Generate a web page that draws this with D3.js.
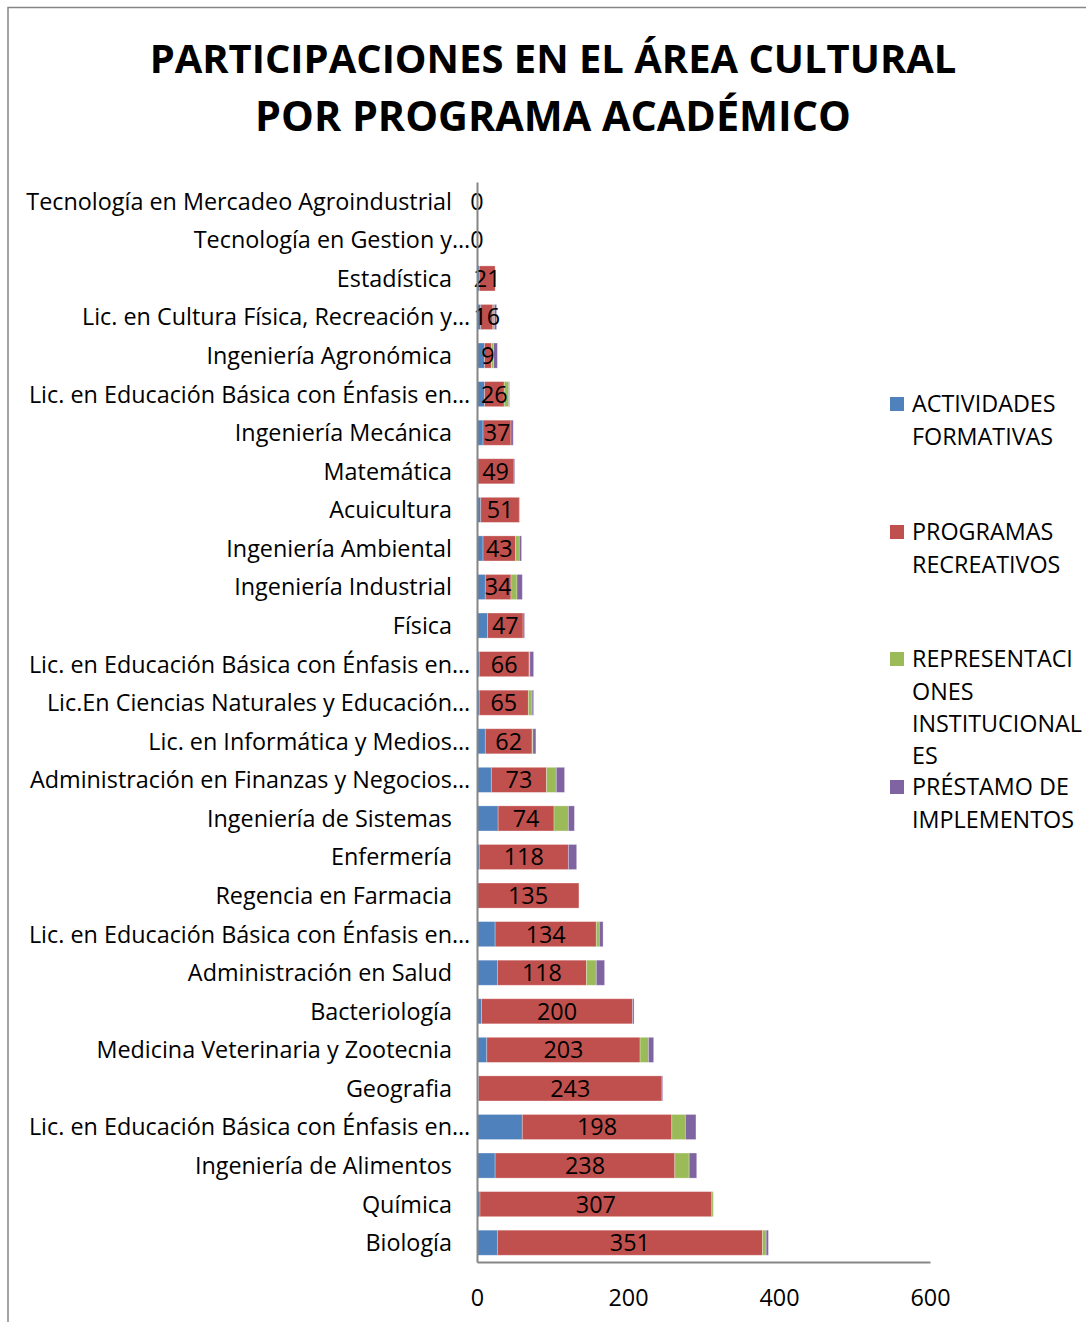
<!DOCTYPE html>
<html>
<head>
<meta charset="utf-8">
<script src="https://cdn.jsdelivr.net/npm/d3@7"></script>
<style>
  body { margin: 0; background: #fff; }
</style>
</head>
<body>
<div id="chart"></div>
<script>
// categories, top to bottom as shown
var categories = [
    "Tecnología en Mercadeo Agroindustrial",
    "Tecnología en Gestion y…",
    "Estadística",
    "Lic. en Cultura Física, Recreación y…",
    "Ingeniería Agronómica",
    "Lic. en Educación Básica con Énfasis en…",
    "Ingeniería Mecánica",
    "Matemática",
    "Acuicultura",
    "Ingeniería Ambiental",
    "Ingeniería Industrial",
    "Física",
    "Lic. en Educación Básica con Énfasis en…",
    "Lic.En Ciencias Naturales y Educación…",
    "Lic. en Informática y Medios…",
    "Administración en Finanzas y Negocios…",
    "Ingeniería de Sistemas",
    "Enfermería",
    "Regencia en Farmacia",
    "Lic. en Educación Básica con Énfasis en…",
    "Administración en Salud",
    "Bacteriología",
    "Medicina Veterinaria y Zootecnia",
    "Geografia",
    "Lic. en Educación Básica con Énfasis en…",
    "Ingeniería de Alimentos",
    "Química",
    "Biología"
];

var actividades      = [0, 0, 3, 5, 10, 10, 8, 0, 5, 8, 11, 14, 3, 3, 11, 19, 28, 3, 0, 24, 27, 6, 13, 2, 60, 24, 4, 27];
var programas        = [0, 0, 21, 16, 9, 26, 37, 49, 51, 43, 34, 47, 66, 65, 62, 73, 74, 118, 135, 134, 118, 200, 203, 243, 198, 238, 307, 351];
var representaciones = [0, 0, 0, 2, 3, 6, 0, 0, 1, 5, 8, 0, 1, 5, 1, 13, 19, 0, 0, 4, 13, 0, 11, 0, 18, 19, 2, 5];
var prestamo         = [0, 0, 0, 3, 5, 1, 3, 1, 0, 3, 7, 2, 5, 2, 4, 11, 8, 11, 0, 5, 11, 2, 7, 1, 14, 10, 0, 3];

var seriesNames = [
    ["ACTIVIDADES", "FORMATIVAS"],
    ["PROGRAMAS", "RECREATIVOS"],
    ["REPRESENTACI", "ONES", "INSTITUCIONAL", "ES"],
    ["PRÉSTAMO DE", "IMPLEMENTOS"]
];
var seriesColors = ["#4F81BD", "#C0504D", "#9BBB59", "#8064A2"];
var xTicks = [0, 200, 400, 600];

var titleLines = ["PARTICIPACIONES EN EL ÁREA CULTURAL", "POR PROGRAMA ACADÉMICO"];

var width = 1086;
var height = 1322;
var FONT = "'Open Sans', 'Noto Sans', sans-serif";

var margin = { top: 182, bottom: 60, left: 477, right: 156 };
var innerW = 930 - margin.left;
var innerH = 1262 - margin.top;

var svg = d3.select("#chart")
    .append("svg")
    .attr("width", width)
    .attr("height", height)
    .style("font-family", FONT);

// size fonts so text widths match the reference
function fitSize(text, weight, target) {
    var t = svg.append("text")
        .attr("font-size", 100)
        .attr("font-weight", weight)
        .text(text);
    var w = t.node().getComputedTextLength();
    t.remove();
    return 100 * target / w;
}
var labelSize = fitSize("Tecnología en Mercadeo Agroindustrial", "normal", 426);
var legendSize = fitSize("IMPLEMENTOS", "normal", 162);
var titleWidths = [807, 596];

// outer frame
svg.append("path")
    .attr("d", "M8,1322 L8,7.5 L1086,7.5")
    .attr("fill", "none")
    .attr("stroke", "#868686")
    .attr("stroke-width", 1.5);

// title
svg.append("g")
    .selectAll("text")
    .data(titleLines)
    .enter()
    .append("text")
    .attr("x", 553)
    .attr("y", function(d, i) { return 73 + i * 58; })
    .attr("text-anchor", "middle")
    .attr("font-weight", "bold")
    .attr("font-size", function(d, i) { return fitSize(d, "bold", titleWidths[i]); })
    .attr("fill", "#000")
    .text(function(d) { return d; });

var g = svg.append("g")
    .attr("transform", "translate(" + margin.left + "," + margin.top + ")");

var x_scale = d3.scaleLinear().domain([0, 600]).range([0, innerW]);
var y_scale = d3.scaleBand()
    .domain(d3.range(categories.length))
    .range([0, innerH])
    .paddingInner(0.35)
    .paddingOuter(0.175);

// build stack table
var table = categories.map(function(c, i) {
    return { idx: i, a: actividades[i], p: programas[i], r: representaciones[i], s: prestamo[i] };
});
var stack = d3.stack().keys(["a", "p", "r", "s"]);
var layers = stack(table);

g.selectAll(".layer")
    .data(layers)
    .enter()
    .append("g")
    .attr("class", "layer")
    .attr("fill", function(d, i) { return seriesColors[i]; })
    .selectAll("rect")
    .data(function(d) { return d; })
    .enter()
    .append("rect")
    .attr("x", function(d) { return x_scale(d[0]); })
    .attr("y", function(d) { return y_scale(d.data.idx); })
    .attr("width", function(d) { return x_scale(d[1]) - x_scale(d[0]); })
    .attr("height", y_scale.bandwidth())
    .attr("stroke", "#fff")
    .attr("stroke-opacity", 0.35)
    .attr("stroke-width", function(d) { return d[1] > d[0] ? 0.8 : 0; });

// data labels for programas recreativos
g.selectAll(".dlabel")
    .data(layers[1])
    .enter()
    .append("text")
    .attr("class", "dlabel")
    .attr("x", function(d) { return (x_scale(d[0]) + x_scale(d[1])) / 2; })
    .attr("y", function(d) { return y_scale(d.data.idx) + y_scale.bandwidth() / 2; })
    .attr("dy", "0.36em")
    .attr("text-anchor", "middle")
    .attr("font-size", labelSize)
    .attr("fill", "#000")
    .text(function(d) { return d.data.p; });

// axes
var yAxis = g.append("g")
    .attr("class", "axis axis--y")
    .call(d3.axisLeft(y_scale).tickSize(0).tickFormat(""));
yAxis.select(".domain").attr("stroke", "#868686").attr("stroke-width", 2);

var xAxis = g.append("g")
    .attr("class", "axis axis--x")
    .attr("transform", "translate(0," + innerH + ")")
    .call(d3.axisBottom(x_scale).tickValues(xTicks).tickSize(0).tickPadding(27));
xAxis.select(".domain").attr("stroke", "#868686").attr("stroke-width", 2);
xAxis.selectAll("text")
    .attr("font-family", FONT)
    .attr("font-size", labelSize)
    .attr("fill", "#000");

// category labels; truncated ones let the ellipsis hang past the edge
var cat = g.append("g")
    .selectAll("text")
    .data(categories)
    .enter()
    .append("text")
    .attr("y", function(d, i) { return y_scale(i) + y_scale.bandwidth() / 2; })
    .attr("dy", "0.36em")
    .attr("font-size", labelSize)
    .attr("fill", "#000");

cat.each(function(d) {
    var el = d3.select(this);
    var cut = d.slice(-1) === "…";
    var main = cut ? d.slice(0, -1) : d;
    el.append("tspan")
        .attr("x", -25)
        .attr("text-anchor", "end")
        .text(main);
    if (cut) {
        el.append("tspan")
            .attr("x", -25)
            .attr("text-anchor", "start")
            .text("…");
    }
});

// legend
var legendTop = [404, 532, 659, 787];
var legend = svg.append("g")
    .selectAll(".legend")
    .data(seriesNames)
    .enter()
    .append("g")
    .attr("class", "legend")
    .attr("transform", function(d, i) { return "translate(890," + legendTop[i] + ")"; });

legend.append("rect")
    .attr("x", 0)
    .attr("y", -7)
    .attr("width", 14)
    .attr("height", 14)
    .attr("fill", function(d, i) { return seriesColors[i]; });

legend.each(function(lines) {
    var t = d3.select(this)
        .append("text")
        .attr("font-size", legendSize)
        .attr("fill", "#000");
    lines.forEach(function(line, j) {
        t.append("tspan")
            .attr("x", 22)
            .attr("y", j * 32.3)
            .attr("dy", "0.36em")
            .text(line);
    });
});
</script>
</body>
</html>
